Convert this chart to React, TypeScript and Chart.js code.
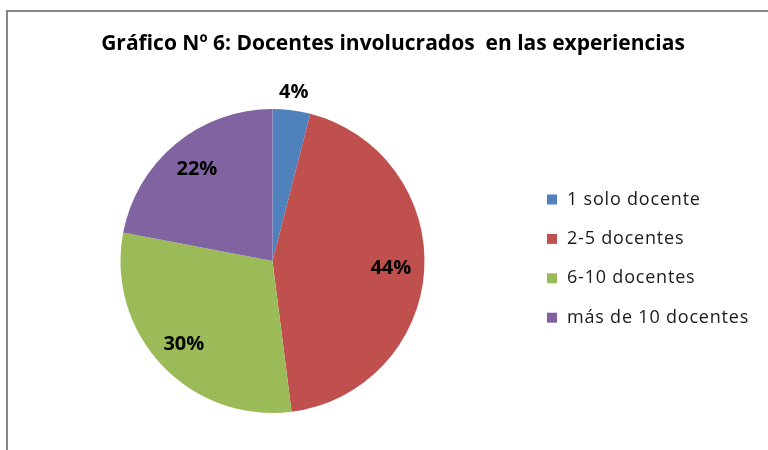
import React, { useEffect, useRef } from "react";
import { Chart, registerables } from "chart.js";

Chart.register(...registerables);

const TITLE = "Gráfico Nº 6: Docentes involucrados  en las experiencias";
const categories = ["1 solo docente", "2-5 docentes", "6-10 docentes", "más de 10 docentes"];
const values = [4, 44, 30, 22];
const pctLabels = ["4%", "44%", "30%", "22%"];
const colors = ["#4F81BD", "#C0504D", "#9BBB59", "#8064A2"];
const labelRadiusFactor = [1.12, 0.78, 0.8, 0.78];

const FONT = "'Open Sans', 'Liberation Sans', sans-serif";

const customPlugin = {
  id: "customDraw",
  beforeDraw(chart: any) {
    const ctx = chart.ctx;
    ctx.save();
    ctx.fillStyle = "#ffffff";
    ctx.fillRect(0, 0, chart.width, chart.height);
    ctx.strokeStyle = "#868686";
    ctx.lineWidth = 2;
    ctx.beginPath();
    ctx.moveTo(7, chart.height + 2);
    ctx.lineTo(7, 11);
    ctx.lineTo(chart.width + 2, 11);
    ctx.stroke();
    // title
    ctx.fillStyle = "#000000";
    ctx.font = `bold 21px ${FONT}`;
    ctx.textAlign = "center";
    ctx.textBaseline = "middle";
    ctx.fillText(TITLE, 393, 44);
    // legend
    ctx.font = `18px ${FONT}`;
    (ctx as any).letterSpacing = "0.8px";
    ctx.textAlign = "left";
    const labels = chart.data.labels as string[];
    const bg = chart.data.datasets[0].backgroundColor as string[];
    labels.forEach((lab, i) => {
      const y = 199.5 + i * 39.4;
      ctx.fillStyle = bg[i];
      ctx.fillRect(547, y - 5, 10, 10);
      ctx.fillStyle = "#1a1a1a";
      ctx.fillText(lab, 567, y);
    });
    ctx.restore();
  },
  afterDatasetsDraw(chart: any) {
    const ctx = chart.ctx;
    const meta = chart.getDatasetMeta(0);
    ctx.save();
    ctx.font = `bold 20px ${FONT}`;
    ctx.fillStyle = "#000000";
    ctx.textAlign = "center";
    ctx.textBaseline = "middle";
    meta.data.forEach((arc: any, i: number) => {
      const p = arc.getProps(["x", "y", "startAngle", "endAngle", "outerRadius"], true);
      const mid = (p.startAngle + p.endAngle) / 2;
      const r = p.outerRadius * labelRadiusFactor[i];
      ctx.fillText(pctLabels[i], p.x + Math.cos(mid) * r, p.y + Math.sin(mid) * r);
    });
    ctx.restore();
  },
};

export default function App() {
  const ref = useRef<HTMLCanvasElement | null>(null);
  useEffect(() => {
    if (!ref.current) return;
    const chart = new Chart(ref.current, {
      type: "pie",
      data: {
        labels: categories,
        datasets: [
          {
            data: values,
            backgroundColor: colors,
            borderWidth: 0,
          },
        ],
      },
      options: {
        responsive: false,
        animation: false,
        layout: { padding: { left: 119, right: 342, top: 109, bottom: 37 } },
        plugins: {
          legend: { display: false },
          title: { display: false },
          tooltip: { enabled: false },
        },
      },
      plugins: [customPlugin],
    });
    return () => chart.destroy();
  }, []);
  return (
    <div style={{ position: "absolute", left: 0, top: 0, width: 768, height: 450 }}>
      <canvas ref={ref} width={768} height={450} style={{ width: 768, height: 450 }} />
    </div>
  );
}
